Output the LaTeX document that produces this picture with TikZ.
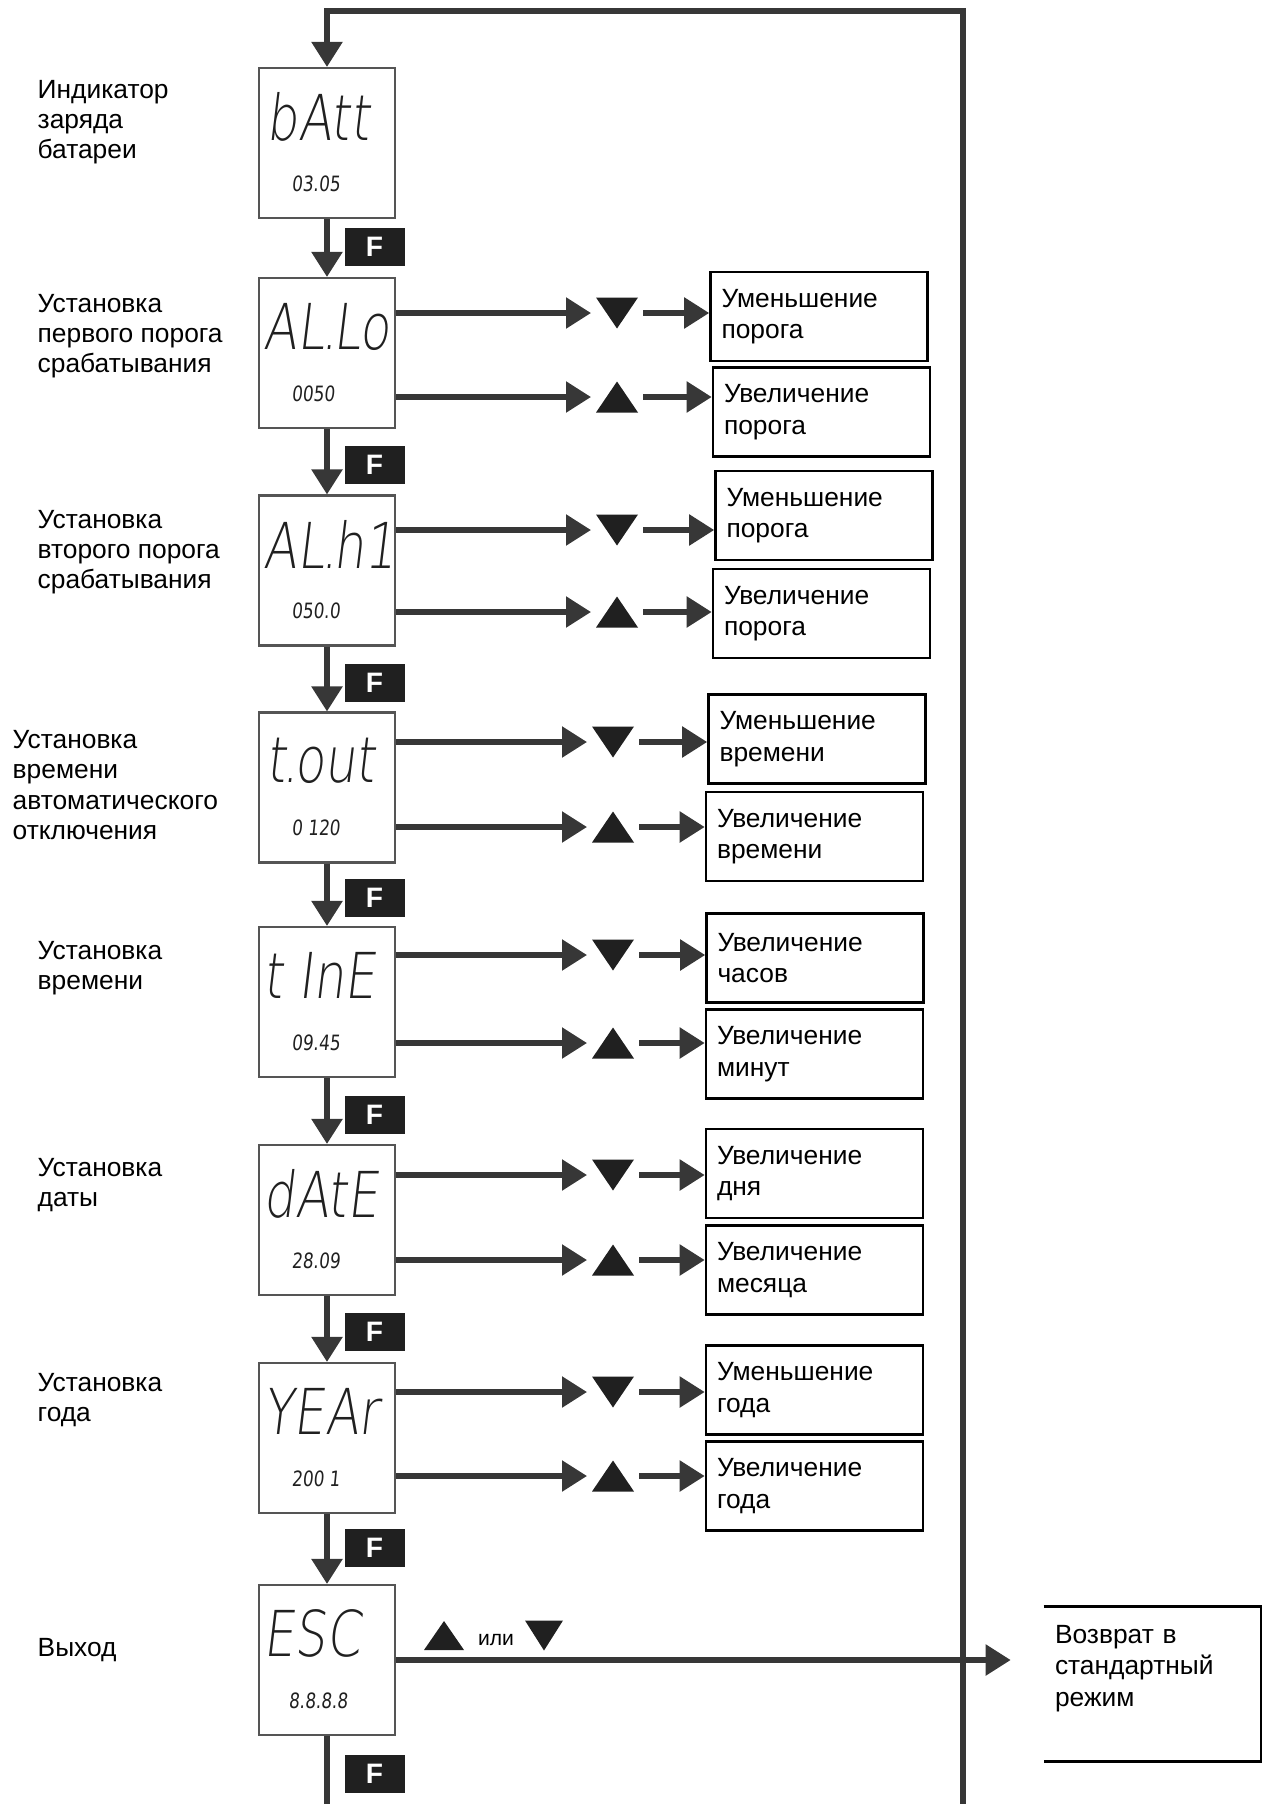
\documentclass[tikz,border=0pt]{standalone}
\usepackage{fontspec}
\setmainfont{Liberation Sans}
\newfontfamily\lcdfont[FakeSlant=0.12,FakeStretch=0.78]{DejaVuSans-ExtraLight.ttf}
\newfontfamily\lcdsmallfont[FakeSlant=0.1,FakeStretch=0.8]{DejaVu Sans}
\newcommand\lcddot{\kern-0.05em.\kern-0.07em}
\usetikzlibrary{arrows.meta}
\definecolor{line_grey}{RGB}{55,55,55}
\definecolor{lcd_grey}{RGB}{85,85,85}
\definecolor{key_black}{RGB}{32,32,32}

\begin{document}
\begin{tikzpicture}[>={Triangle[length=0.25cm,width=0.3cm]}]
    \tikzstyle{flow}=[line_grey,line width=1.55pt]
    \tikzstyle{mode}=[anchor=west,align=left,inner sep=0pt,font=\fontsize{7.5}{8.6}\selectfont]
    \tikzstyle{lcd}=[draw=lcd_grey,line width=0.6pt,minimum width=1.36cm,minimum height=1.5cm,inner sep=0pt]
    \tikzstyle{lcdbig}=[anchor=west,inner sep=0pt,text=key_black,font=\lcdfont\fontsize{18}{18}\selectfont]
    \tikzstyle{lcdsmall}=[anchor=west,inner sep=0pt,text=key_black,font=\lcdsmallfont\fontsize{6}{6}\selectfont]
    \tikzstyle{fkey}=[fill=key_black,text=white,minimum width=0.6cm,minimum height=0.38cm,inner sep=0pt,font=\bfseries\fontsize{8}{8}\selectfont]
    \tikzstyle{result}=[draw=black,line width=0.75pt,minimum width=2.17cm,minimum height=0.89cm,text width=1.95cm,inner xsep=0.1cm,align=left,font=\fontsize{7.5}{9}\selectfont]
    \tikzstyle{keydn}=[minimum width=0.42cm,minimum height=0.31cm,inner sep=0pt,outer sep=0.05cm,
      path picture={\fill[key_black] (path picture bounding box.north west) -- (path picture bounding box.north east) -- (path picture bounding box.south) -- cycle;}]
    \tikzstyle{keyup}=[minimum width=0.42cm,minimum height=0.31cm,inner sep=0pt,outer sep=0.05cm,
      path picture={\fill[key_black] (path picture bounding box.south west) -- (path picture bounding box.south east) -- (path picture bounding box.north) -- cycle;}]

    \useasboundingbox (0,0) rectangle (12.62,-18.04);

    \node[mode] (batt-l) at (0.37,-1.22)  {Индикатор\\заряда\\батареи};
    \node[mode] (allo-l) at (0.37,-3.36)  {Установка\\первого порога\\срабатывания};
    \node[mode] (alhi-l) at (0.37,-5.52)  {Установка\\второго порога\\срабатывания};
    \node[mode] (tout-l) at (0.12,-7.85)  {Установка\\времени\\автоматического\\отключения};
    \node[mode] (time-l) at (0.37,-9.68)  {Установка\\времени};
    \node[mode] (date-l) at (0.37,-11.85) {Установка\\даты};
    \node[mode] (year-l) at (0.37,-14.00) {Установка\\года};
    \node[mode] (esc-l)  at (0.37,-16.50) {Выход};

    \node[lcd] (batt) at (3.27,-1.43)  {};
    \node[lcd] (allo) at (3.27,-3.53)  {};
    \node[lcd] (alhi) at (3.27,-5.705) {};
    \node[lcd] (tout) at (3.27,-7.875) {};
    \node[lcd] (time) at (3.27,-10.02) {};
    \node[lcd] (date) at (3.27,-12.20) {};
    \node[lcd] (year) at (3.27,-14.38) {};
    \node[lcd] (esc)  at (3.27,-16.60) {};

    \node[lcdbig]   (batt-t) at (2.66,-1.165)  {bAtt};
    \node[lcdsmall] (batt-v) at (2.91,-1.835)  {03.05};
    \node[lcdbig]   (allo-t) at (2.63,-3.265)  {AL\lcddot Lo};
    \node[lcdsmall] (allo-v) at (2.91,-3.935)  {0050};
    \node[lcdbig]   (alhi-t) at (2.63,-5.44)   {AL\lcddot h1};
    \node[lcdsmall] (alhi-v) at (2.91,-6.11)   {050.0};
    \node[lcdbig]   (tout-t) at (2.66,-7.61)   {t\lcddot out};
    \node[lcdsmall] (tout-v) at (2.91,-8.28)   {0 120};
    \node[lcdbig]   (time-t) at (2.63,-9.755)  {t InE};
    \node[lcdsmall] (time-v) at (2.91,-10.425) {09.45};
    \node[lcdbig]   (date-t) at (2.63,-11.935) {dAtE};
    \node[lcdsmall] (date-v) at (2.91,-12.605) {28.09};
    \node[lcdbig]   (year-t) at (2.63,-14.115) {YEAr};
    \node[lcdsmall] (year-v) at (2.91,-14.785) {200 1};
    \node[lcdbig]   (esc-t)  at (2.63,-16.335) {ESC};
    \node[lcdsmall] (esc-v)  at (2.88,-17.005) {8.8.8.8};

    \node[fkey] (f1) at (3.745,-2.47)  {F};
    \node[fkey] (f2) at (3.745,-4.65)  {F};
    \node[fkey] (f3) at (3.745,-6.83)  {F};
    \node[fkey] (f4) at (3.745,-8.98)  {F};
    \node[fkey] (f5) at (3.745,-11.15) {F};
    \node[fkey] (f6) at (3.745,-13.32) {F};
    \node[fkey] (f7) at (3.745,-15.48) {F};
    \node[fkey] (f8) at (3.745,-17.74) {F};

    \node[keydn] (allo-dn) at (6.17,-3.13)  {};
    \node[keyup] (allo-up) at (6.17,-3.97)  {};
    \node[keydn] (alhi-dn) at (6.17,-5.30)  {};
    \node[keyup] (alhi-up) at (6.17,-6.12)  {};
    \node[keydn] (tout-dn) at (6.13,-7.42)  {};
    \node[keyup] (tout-up) at (6.13,-8.27)  {};
    \node[keydn] (time-dn) at (6.13,-9.55)  {};
    \node[keyup] (time-up) at (6.13,-10.43) {};
    \node[keydn] (date-dn) at (6.13,-11.75) {};
    \node[keyup] (date-up) at (6.13,-12.60) {};
    \node[keydn] (year-dn) at (6.13,-13.92) {};
    \node[keyup] (year-up) at (6.13,-14.76) {};

    \node[result] (allo-dec) at (8.19,-3.165)  {Уменьшение\\порога};
    \node[result] (allo-inc) at (8.215,-4.12)  {Увеличение\\порога};
    \node[result] (alhi-dec) at (8.24,-5.155)  {Уменьшение\\порога};
    \node[result] (alhi-inc) at (8.215,-6.135) {Увеличение\\порога};
    \node[result] (tout-dec) at (8.17,-7.39)   {Уменьшение\\времени};
    \node[result] (tout-inc) at (8.145,-8.365) {Увеличение\\времени};
    \node[result] (time-hr)  at (8.15,-9.58)   {Увеличение\\часов};
    \node[result] (time-min) at (8.145,-10.54) {Увеличение\\минут};
    \node[result] (date-day) at (8.145,-11.735) {Увеличение\\дня};
    \node[result] (date-mon) at (8.145,-12.70) {Увеличение\\месяца};
    \node[result] (year-dec) at (8.145,-13.90) {Уменьшение\\года};
    \node[result] (year-inc) at (8.145,-14.86) {Увеличение\\года};

    \node[result,draw=none,minimum width=2.15cm,minimum height=1.52cm,text depth=1.0cm] (back) at (11.525,-16.84) {Возврат в\\стандартный\\режим};
    \draw[line width=0.75pt] (back.north west) -- (back.north east) -- (back.south east) -- (back.south west);

    \node[keyup,minimum width=0.4cm,minimum height=0.29cm] (esc-up) at (4.44,-16.355) {};
    \node[inner sep=0pt,font=\fontsize{6}{6}\selectfont] (esc-or) at (4.96,-16.40) {или};
    \node[keydn,minimum width=0.38cm,minimum height=0.3cm] (esc-dn) at (5.44,-16.355) {};

    \coordinate (loop-tl) at (3.27,-0.11);
    \coordinate (loop-tr) at (9.63,-0.11);
    \coordinate (loop-br) at (9.63,-18.04);
    \coordinate (loop-bl) at (3.27,-18.04);

    \draw[flow,->] (loop-br) -- (loop-tr) -- (loop-tl) -- (batt);
    \draw[flow] (esc) -- (loop-bl);

    \path[flow,->]
     (batt) edge (allo)
     (allo) edge (alhi)
     (alhi) edge (tout)
     (tout) edge (time)
     (time) edge (date)
     (date) edge (year)
     (year) edge (esc)
     (allo.east |- allo-dn) edge (allo-dn)
     (allo.east |- allo-up) edge (allo-up)
     (alhi.east |- alhi-dn) edge (alhi-dn)
     (alhi.east |- alhi-up) edge (alhi-up)
     (tout.east |- tout-dn) edge (tout-dn)
     (tout.east |- tout-up) edge (tout-up)
     (time.east |- time-dn) edge (time-dn)
     (time.east |- time-up) edge (time-up)
     (date.east |- date-dn) edge (date-dn)
     (date.east |- date-up) edge (date-up)
     (year.east |- year-dn) edge (year-dn)
     (year.east |- year-up) edge (year-up)
     (allo-dn) edge (allo-dn -| allo-dec.west)
     (allo-up) edge (allo-up -| allo-inc.west)
     (alhi-dn) edge (alhi-dn -| alhi-dec.west)
     (alhi-up) edge (alhi-up -| alhi-inc.west)
     (tout-dn) edge (tout-dn -| tout-dec.west)
     (tout-up) edge (tout-up -| tout-inc.west)
     (time-dn) edge (time-dn -| time-hr.west)
     (time-up) edge (time-up -| time-min.west)
     (date-dn) edge (date-dn -| date-day.west)
     (date-up) edge (date-up -| date-mon.west)
     (year-dn) edge (year-dn -| year-dec.west)
     (year-up) edge (year-up -| year-inc.west)
     (esc.east) edge[shorten >=0.33cm] (esc.east -| back.west);
\end{tikzpicture}
\end{document}
